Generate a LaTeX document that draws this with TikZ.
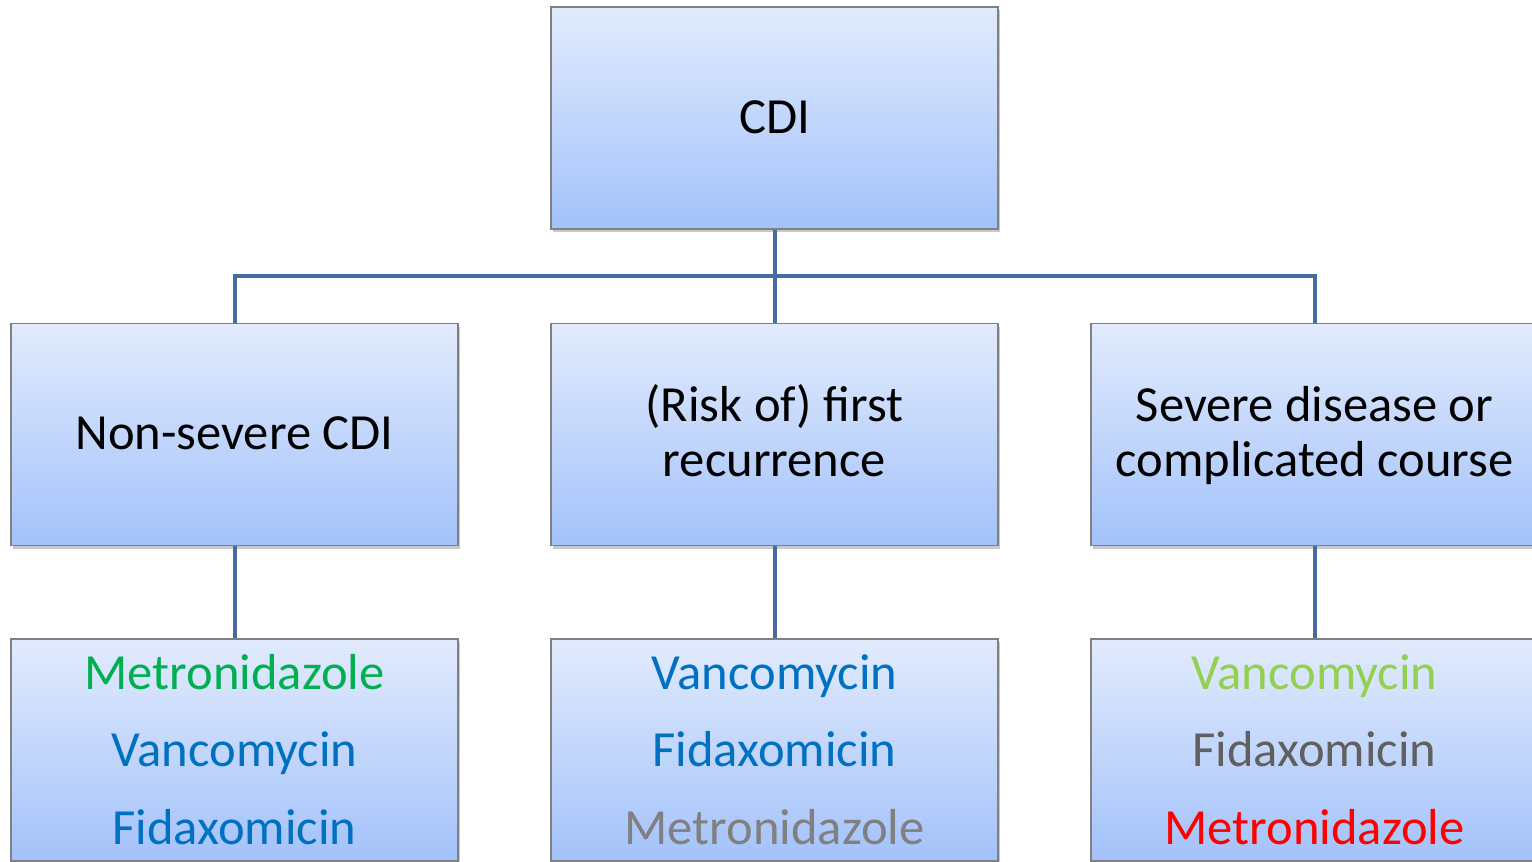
\documentclass[tikz,border=0pt]{standalone}
\usepackage{fontspec}
\setmainfont{Carlito}
\usetikzlibrary{shadows}
\definecolor{boxtop}{RGB}{226,235,253}
\definecolor{boxbot}{RGB}{163,194,250}
\definecolor{boxline}{RGB}{128,128,128}
\definecolor{conncol}{RGB}{72,108,160}
\definecolor{cgreen}{RGB}{0,176,80}
\definecolor{cblue}{RGB}{0,112,192}
\definecolor{cgrey}{RGB}{128,128,128}
\definecolor{clgreen}{RGB}{146,208,80}
\definecolor{cdgrey}{RGB}{96,96,96}
\definecolor{cred}{RGB}{255,0,0}
\tikzset{
  box/.style={rectangle, draw=boxline, line width=0.6pt, top color=boxtop, bottom color=boxbot,
    minimum width=223.5pt, minimum height=111pt, inner sep=0pt,
    drop shadow={shadow xshift=0.8pt, shadow yshift=-1.6pt, opacity=0.35, fill=black!60}},
  conn/.style={draw=conncol, line width=2pt},
  label/.style={inner sep=0pt, anchor=base, font=\fontsize{25.3}{28}\selectfont}
}
\begin{document}
\begin{tikzpicture}[x=0.5pt,y=-0.5pt]
\clip (0,0) rectangle (1532,862);
\fill[white] (0,0) rectangle (1532,862);
\coordinate (bus) at (775,276);
% boxes
\node[box] (top) at (774.5,118) {};
\node[box] (m1) at (234.5,434.5) {};
\node[box] (m2) at (774.5,434.5) {};
\node[box] (m3) at (1314.5,434.5) {};
\node[box] (b1) at (234.5,750) {};
\node[box] (b2) at (774.5,750) {};
\node[box] (b3) at (1314.5,750) {};
% connectors
\draw[conn] (top.south) -- (m2.north);
\draw[conn] (m1.north) -- (m1.north |- bus) -- (m3.north |- bus) -- (m3.north);
\draw[conn] (m1.south) -- (b1.north);
\draw[conn] (m2.south) -- (b2.north);
\draw[conn] (m3.south) -- (b3.north);
% box texts
\node[label] (t0) at (774.5,133) {CDI};
\node[label] (t1) at (234.5,449) {Non-severe CDI};
\node[label] (t2a) at (774.5,421) {(Risk of) first};
\node[label] (t2b) at (774.5,476.5) {recurrence};
\node[label] (t3a) at (1314.5,421) {Severe disease or};
\node[label] (t3b) at (1314.5,476.5) {complicated course};
% drug lists
\node[label, text=cgreen] (b1a) at (234.5,689.5) {Metronidazole};
\node[label, text=cblue] (b1b) at (234.5,766.5) {Vancomycin};
\node[label, text=cblue] (b1c) at (234.5,844) {Fidaxomicin};
\node[label, text=cblue] (b2a) at (774.5,689.5) {Vancomycin};
\node[label, text=cblue] (b2b) at (774.5,766.5) {Fidaxomicin};
\node[label, text=cgrey] (b2c) at (774.5,844) {Metronidazole};
\node[label, text=clgreen] (b3a) at (1314.5,689.5) {Vancomycin};
\node[label, text=cdgrey] (b3b) at (1314.5,766.5) {Fidaxomicin};
\node[label, text=cred] (b3c) at (1314.5,844) {Metronidazole};
\end{tikzpicture}
\end{document}
